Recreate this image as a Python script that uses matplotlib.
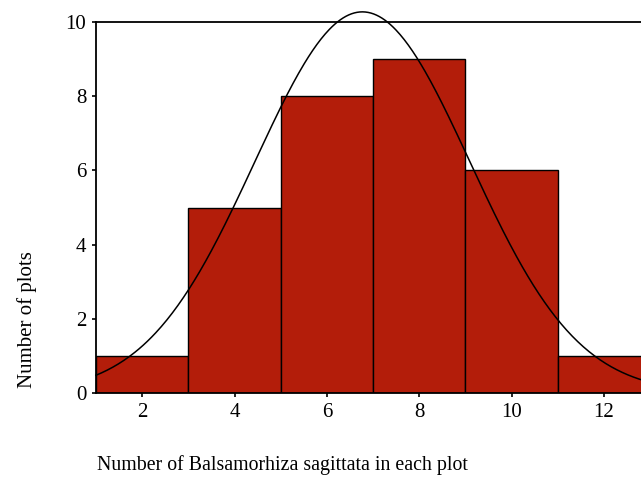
import numpy as np
import matplotlib
matplotlib.use("Agg")
import matplotlib.pyplot as plt

bin_edges = [1, 3, 5, 7, 9, 11, 13]
counts = [1, 5, 8, 9, 6, 1]
fit_mean = 6.77
fit_sd = 2.33
n_total = sum(counts)
bin_width = 2
x_ticks = [2, 4, 6, 8, 10, 12]
y_ticks = [0, 2, 4, 6, 8, 10]

plt.rcParams['font.family'] = ['Liberation Serif', 'DejaVu Serif']

W, H = 641, 478
fig = plt.figure(figsize=(W / 100, H / 100), dpi=100)
left, right = 96, 650
bottom, top = 393, 22
ax = fig.add_axes([left / W, 1 - bottom / H, (right - left) / W, (bottom - top) / H])

lefts = bin_edges[:-1]
widths = np.diff(bin_edges)
ax.bar(lefts, counts, width=widths, align='edge', color='#B31D0A',
       edgecolor='black', linewidth=1.0, zorder=2)

xs = np.linspace(bin_edges[0], bin_edges[-1], 400)
ys = n_total * bin_width / (fit_sd * np.sqrt(2 * np.pi)) * np.exp(-(xs - fit_mean) ** 2 / (2 * fit_sd ** 2))
ax.plot(xs, ys, color='black', linewidth=1.1, zorder=3, clip_on=False)

ax.set_xlim(bin_edges[0], bin_edges[-1])
ax.set_ylim(0, 10)
ax.set_xticks(x_ticks)
ax.set_yticks(y_ticks)
ax.tick_params(axis='both', labelsize=15, direction='out', length=3, width=1.2, pad=4)
for s in ax.spines.values():
    s.set_linewidth(1.3)

fig.text(97 / W, 1 - 465 / H, 'Number of Balsamorhiza sagittata in each plot',
         fontsize=14.3, ha='left', va='center')
fig.text(27 / W, 1 - 320 / H, 'Number of plots', fontsize=15, rotation=90,
         ha='center', va='center')

fig.savefig('out.png', dpi=100)
